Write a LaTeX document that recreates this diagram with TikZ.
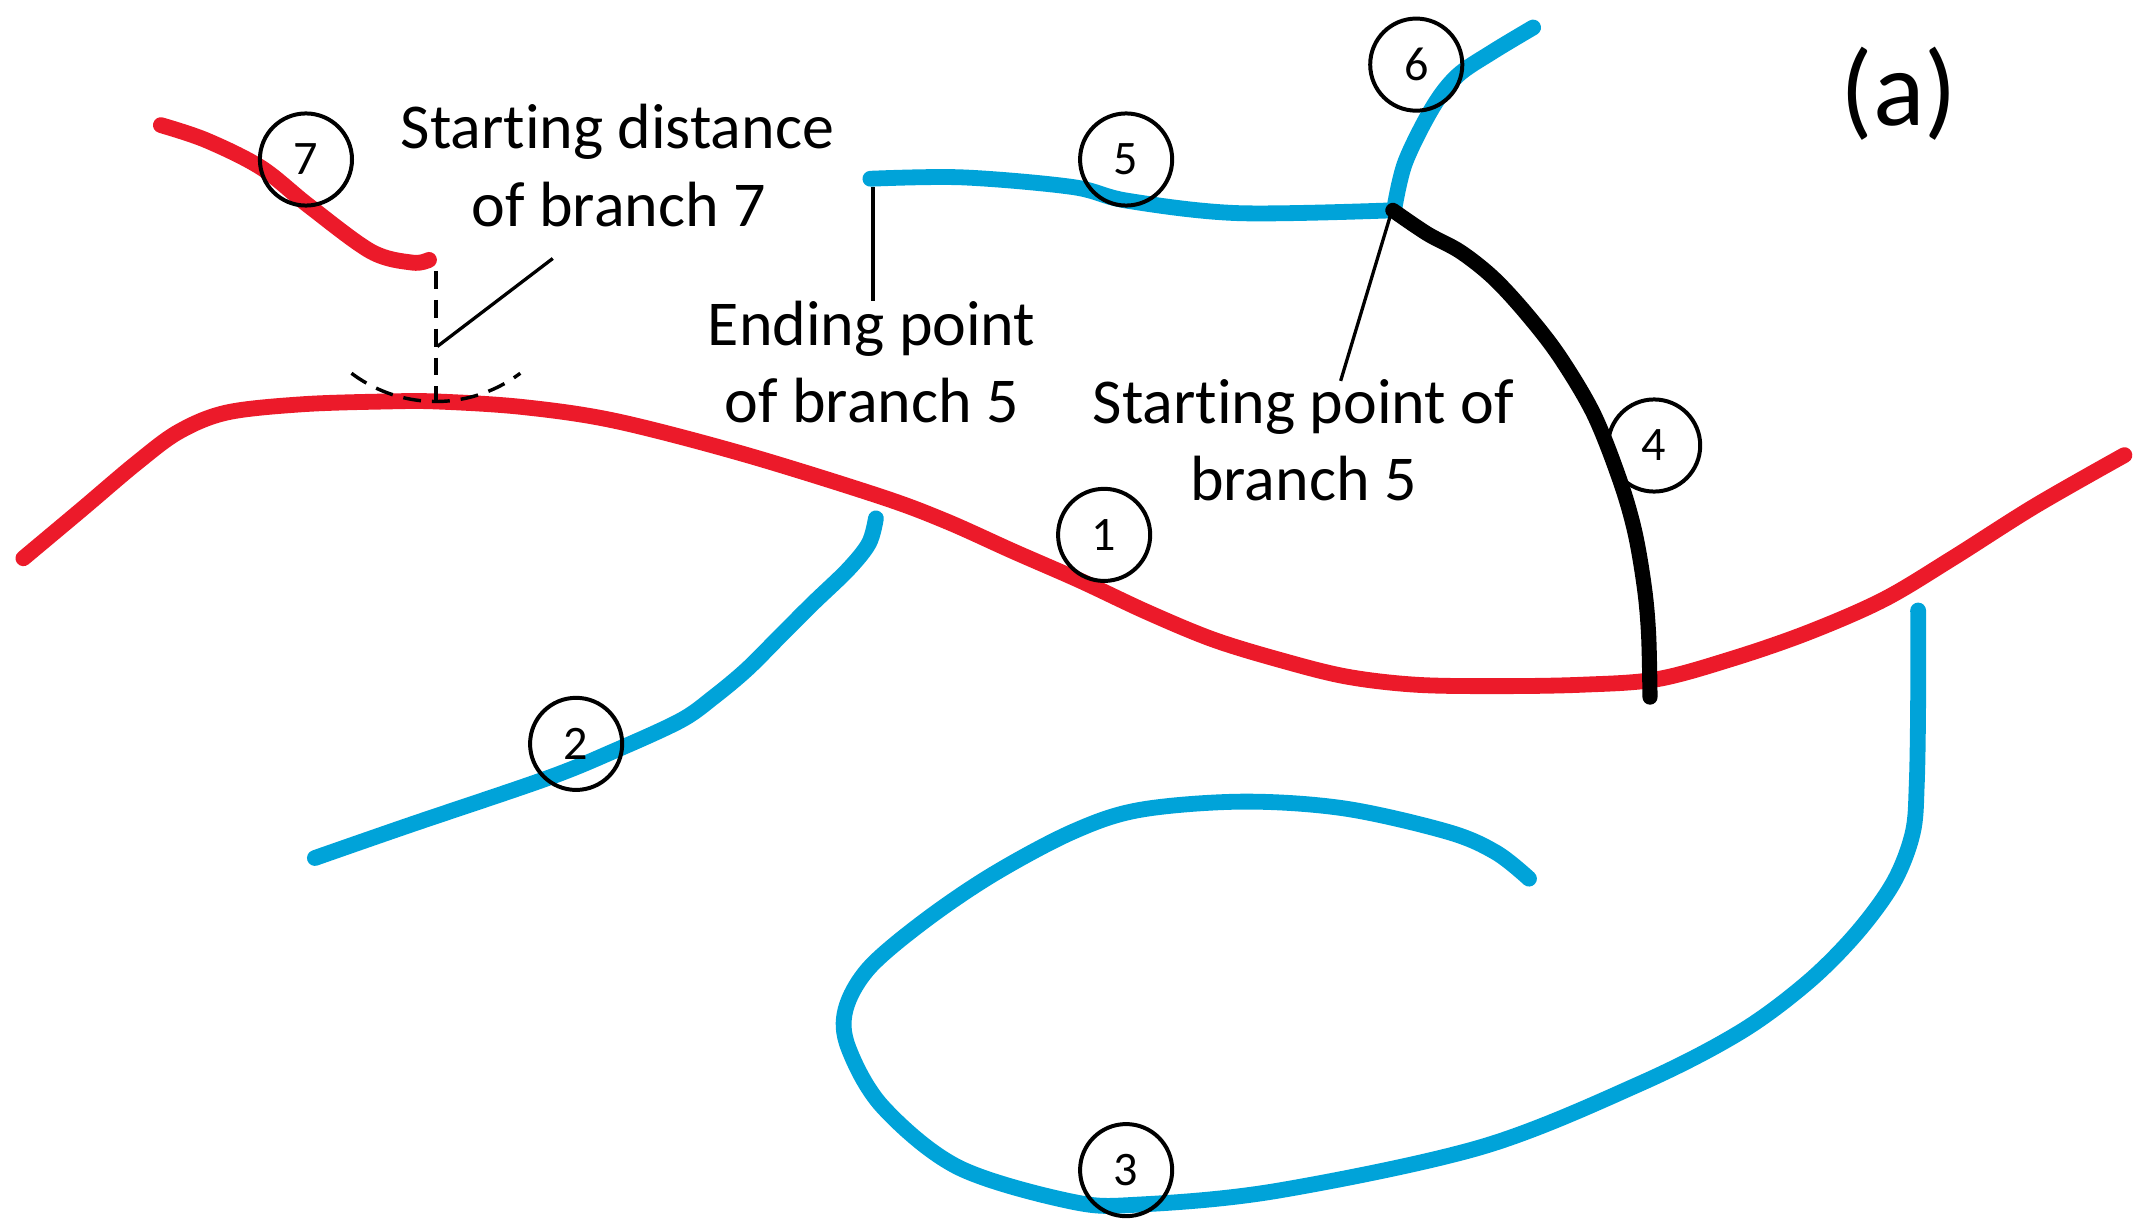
\documentclass[tikz,border=0pt]{standalone}
\usepackage{fontspec}
\setmainfont{Carlito}[Ligatures={NoCommon,NoContextual},RawFeature={-liga;-clig;-calt}]
\definecolor{rootred}{HTML}{EC1A2A}
\definecolor{branchblue}{HTML}{00A3D9}
\begin{document}
\begin{tikzpicture}[x=1pt,y=-1pt,
  redline/.style={rootred,line width=11.5pt,line cap=round,line join=round},
  blueline/.style={branchblue,line width=11.5pt,line cap=round,line join=round},
  blackline/.style={black,line width=11pt,line cap=round,line join=round},
  leader/.style={black,line width=2.4pt},
  dashleader/.style={black,line width=2.5pt,dash pattern=on 13pt off 8pt},
  numc/.style={circle,draw=black,line width=2.9pt,minimum size=67pt,inner sep=0pt,font=\fontsize{35}{42}\selectfont},
  lbl/.style={anchor=base,inner sep=0pt,font=\fontsize{46.5}{56}\selectfont}]
\useasboundingbox (0,0) rectangle (1560,896);
% branch 1 (main, red)
\draw[redline] plot[smooth,tension=0.55] coordinates {(17,406) (60,370) (99,337) (130,314) (165,300) (220,294) (280,292) (318,292) (380,296) (447,306) (540,330) (640,361) (688,379) (737,401) (785,422) (834,445) (882,465) (931,480) (979,492) (1030,498) (1090,499) (1150,498) (1205,494) (1260,479) (1315,460) (1370,436) (1420,406) (1480,368) (1545,331)};
% branch 7 (red)
\draw[redline] plot[smooth,tension=0.55] coordinates {(117,91) (150,102) (190,122) (225,150) (270,183) (300,191) (312,189)};
% branch 5 (blue)
\draw[blueline] plot[smooth,tension=0.55] coordinates {(633,130) (700,129) (780,136) (820,146) (900,155) (1012,153)};
% branch 6 (blue)
\draw[blueline] plot[smooth,tension=0.55] coordinates {(1014,152) (1022,118) (1042,78) (1060,55) (1085,38) (1115,20)};
% branch 4 (black)
\draw[blackline] plot[smooth,tension=0.55] coordinates {(1013,153) (1038,170) (1062,183) (1086,202) (1110,228) (1134,259) (1159,301) (1178,349) (1189,387) (1196,428) (1199,462) (1200,507)};
% branch 2 (blue)
\draw[blueline] plot[smooth,tension=0.55] coordinates {(637,377) (632,395) (617,414) (591,439) (567,463) (543,487) (519,507) (495,524) (447,546) (398,566) (298,600) (229,624)};
% branch 3 (blue)
\draw[blueline] plot[smooth,tension=0.55] coordinates {(1395,444) (1395,510) (1394,570) (1391,606) (1377,642) (1350,679) (1314,715) (1265,751) (1193,788) (1078,834) (929,866) (829,876) (780,874) (697,849) (642,805) (617,762) (615,734) (632,704) (672,670) (722,636) (780,605) (829,589) (904,583) (978,588) (1053,605) (1088,620) (1112,639)};
% circled numbers
\node[numc] (c7) at (222.5,116) {7};
\node[numc] (c5) at (819,116) {5};
\node[numc] (c6) at (1030,47) {6};
\node[numc] (c1) at (803,389) {1};
\node[numc] (c4) at (1203,324) {4};
\node[numc] (c2) at (419,541) {2};
\node[numc] (c3) at (819,851) {3};
% labels
\node[lbl] (t7a) at (449,108) {Starting distance};
\node[lbl] (t7b) at (450,165) {of branch 7};
\node[lbl] (e5a) at (634,251) {Ending point};
\node[lbl] (e5b) at (634,307) {of branch 5};
\node[lbl] (s5a) at (948,308) {Starting point of};
\node[lbl] (s5b) at (948,364) {branch 5};
\node[anchor=base,inner sep=0pt,font=\fontsize{78}{90}\selectfont] (tag) at (1381,91.5) {(a)};
% leader lines and distance marks
\coordinate (d7top) at (317,197);
\coordinate (d7bot) at (317,292);
\coordinate (l7a) at (402,188);
\coordinate (l7b) at (318,252);
\coordinate (e5top) at (635,136);
\coordinate (e5bot) at (635,219);
\coordinate (s5top) at (1012,154);
\coordinate (s5bot) at (975,277);
\draw[dashleader] (d7top) -- (d7bot);
\draw[dashleader] plot[domain=127:53,samples=40] ({317+102*cos(\x)},{190+102*sin(\x)});
\draw[leader] (l7a) -- (l7b);
\draw[leader] (e5top) -- (e5bot);
\draw[leader] (s5top) -- (s5bot);
\end{tikzpicture}
\end{document}
